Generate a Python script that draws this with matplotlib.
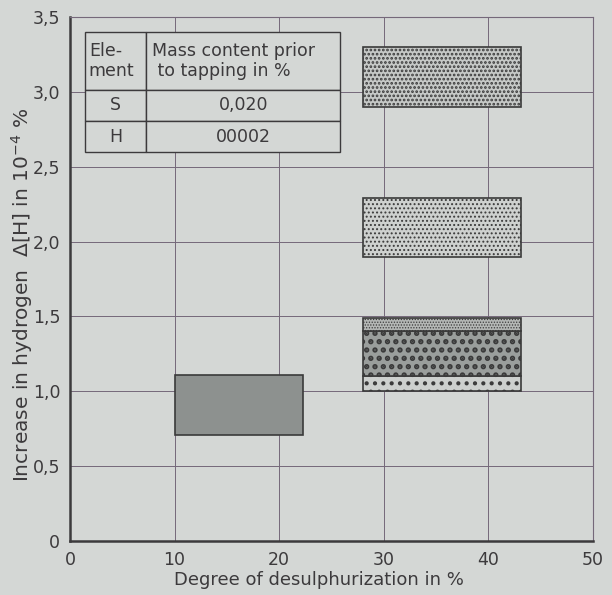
import numpy as np
import matplotlib
matplotlib.use("Agg")
import matplotlib.pyplot as plt

# Rectangles: desulphurization range (x) vs hydrogen pick-up range (y)
x_start = [10.0, 28.0, 28.0, 28.0, 28.0, 28.0]
x_end = [22.3, 43.1, 43.1, 43.1, 43.1, 43.1]
y_low = [0.71, 2.90, 1.90, 1.00, 1.10, 1.40]
y_high = [1.11, 3.30, 2.29, 1.10, 1.40, 1.49]

# fill styles of each rectangle (tone, hatch, dot stroke)
face_colors = ["#8d918f", "#c6c9c7", "#ced1cf", "#cdd0ce", "#9a9e9c", "#b4b7b5"]
hatches = [None, "....", "....", "..", "..", "......"]
dot_widths = [1.0, 1.3, 0.9, 1.8, 2.6, 0.6]

x_ticks = [0, 10, 20, 30, 40, 50]
y_ticks = [0, 0.5, 1.0, 1.5, 2.0, 2.5, 3.0, 3.5]
y_tick_labels = ["0", "0,5", "1,0", "1,5", "2,0", "2,5", "3,0", "3,5"]

table_header = ["Ele-\nment", "Mass content prior\n to tapping in %"]
table_elements = ["S", "H"]
table_mass = ["0,020", "00002"]

BG = "#d4d7d5"
INK = "#3c3a3c"
GRID = "#75687a"

plt.rcParams["font.family"] = ["DejaVu Sans"]

fig = plt.figure(figsize=(6.12, 5.95), dpi=100, facecolor=BG)
ax = fig.add_axes([70 / 612, 54 / 595, 523 / 612, 524 / 595])
ax.set_facecolor(BG)

ax.set_xlim(0, 50)
ax.set_ylim(0, 3.5)
ax.set_xticks(x_ticks)
ax.set_yticks(y_ticks)
ax.set_yticklabels(y_tick_labels)
ax.tick_params(length=0, labelsize=12.5, colors=INK, pad=7)
ax.grid(True, color=GRID, linewidth=0.7)
ax.set_axisbelow(True)

for side in ["left", "bottom"]:
    ax.spines[side].set_linewidth(1.8)
    ax.spines[side].set_color(INK)
for side in ["top", "right"]:
    ax.spines[side].set_linewidth(0.8)
    ax.spines[side].set_color(GRID)

widths = np.array(x_end) - np.array(x_start)
heights = np.array(y_high) - np.array(y_low)
for i in range(len(x_start)):
    with plt.rc_context({"hatch.linewidth": dot_widths[i]}):
        ax.bar(x_start[i], heights[i], width=widths[i], bottom=y_low[i], align="edge",
               color=face_colors[i], hatch=hatches[i], edgecolor="#3a3a3a",
               linewidth=1.2, zorder=3)

ax.set_xlabel("Degree of desulphurization in %", fontsize=13, color=INK)
ax.xaxis.set_label_coords(0.476, -0.058)
ax.set_ylabel("Increase in hydrogen  $\\Delta$[H] in 10$^{-4}$ %", fontsize=14.5,
              color=INK)
ax.yaxis.set_label_coords(-0.066, 0.47)

# inset table with the initial contents
cells = [[e, m] for e, m in zip(table_elements, table_mass)]
tbl = ax.table(cellText=[table_header] + cells, cellLoc="center",
               bbox=[0.029, 0.742, 0.488, 0.229], zorder=5)
tbl.auto_set_font_size(False)
tbl.set_fontsize(12.5)
col_w = [0.24, 0.76]
row_h = [0.48, 0.26, 0.26]
for (r, c), cell in tbl.get_celld().items():
    cell.set_width(col_w[c])
    cell.set_height(row_h[r])
    cell.set_facecolor(BG)
    cell.set_edgecolor(INK)
    cell.set_linewidth(1.0)
    cell.get_text().set_color(INK)
    if r == 0:
        cell.get_text().set_ha("left")
        cell._loc = "left"
        cell.PAD = 0.06 if c == 0 else 0.03

fig.savefig("out.png", dpi=100, facecolor=BG)
